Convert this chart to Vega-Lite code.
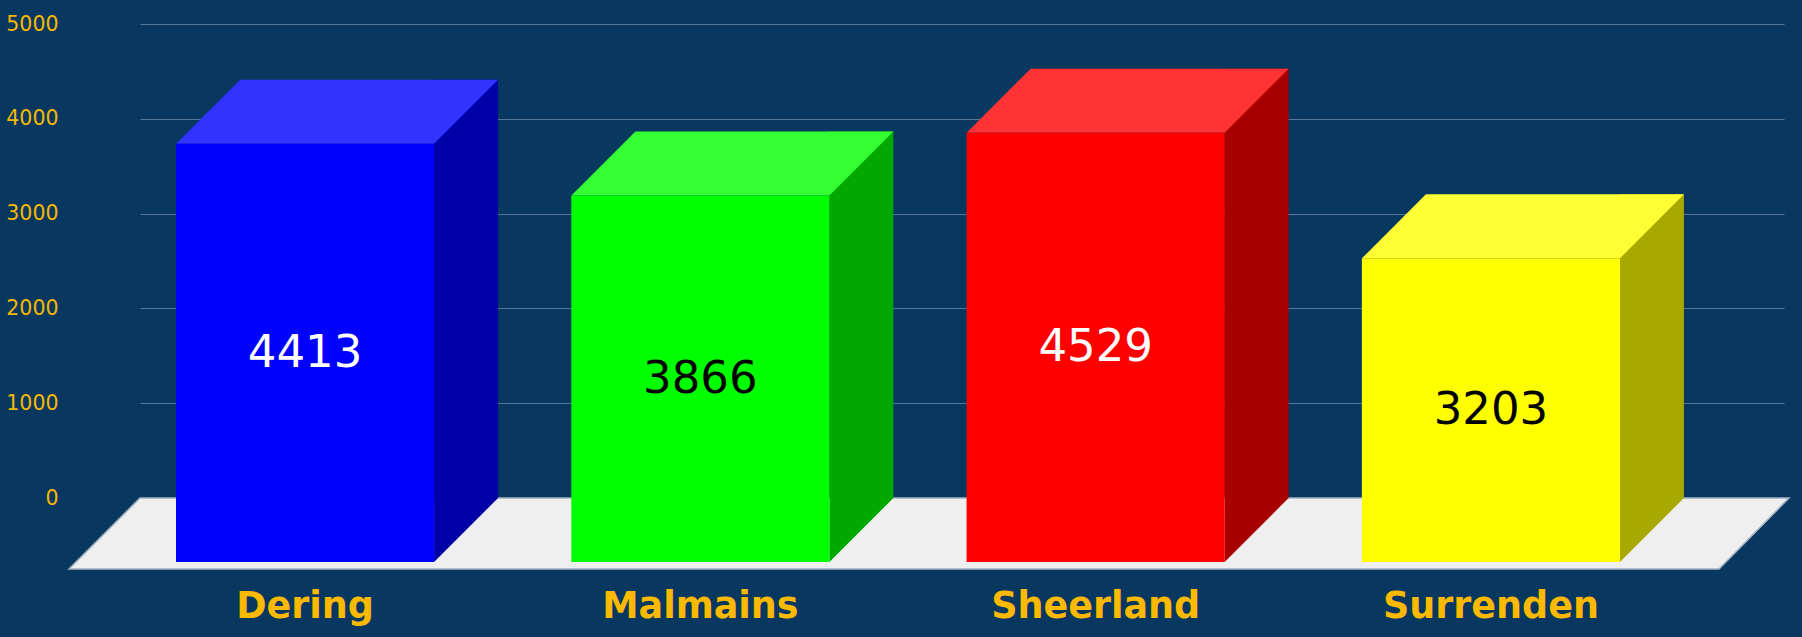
{
  "$schema": "https://vega.github.io/schema/vega-lite/v6.json",
  "width": 1649,
  "height": 474,
  "autosize": {"type": "none"},
  "padding": {"left": 140, "top": 24, "right": 13, "bottom": 139},
  "background": "#08375F",
  "data": {
    "values": [
      {"Region": "Dering", "Total": 4413},
      {"Region": "Malmains", "Total": 3866},
      {"Region": "Sheerland", "Total": 4529},
      {"Region": "Surrenden", "Total": 3203}
    ]
  },
  "layer": [
    {
      "layer": [
        {
          "data": {"values": [{"Element": "floor"}]},
          "mark": {
            "type": "point",
            "shape": "M-824.5,0L824.5,0L754.5,71L-895.5,71Z",
            "size": 4,
            "filled": true,
            "opacity": 1,
            "color": "#EFEFEF",
            "stroke": "#A3B3C4",
            "strokeWidth": 1.5
          },
          "encoding": {
            "y": {"datum": 0, "type": "quantitative", "scale": {"domain": [0, 5000], "nice": false}}
          }
        },
        {
          "mark": {"type": "bar", "width": 64, "xOffset": 97},
          "encoding": {
            "x": {"field": "Region", "type": "nominal", "sort": null, "title": null,
                  "scale": {"type": "band", "range": [0, 1644], "paddingInner": 0.347, "paddingOuter": 0.253}},
            "y": {"field": "Total", "type": "quantitative", "title": null, "axis": {"format": "d"},
                  "scale": {"domain": [0, 5000], "nice": false}},
            "color": {"field": "Region", "type": "nominal", "legend": null,
                      "scale": {"domain": ["Dering", "Malmains", "Sheerland", "Surrenden"],
                                "range": ["#0000A8", "#00A800", "#A80000", "#A8A800"]}}
          }
        },
        {
          "mark": {"type": "point", "shape": "M65,0L129,0L65,64Z", "size": 4, "filled": true, "opacity": 1, "strokeWidth": 0},
          "encoding": {
            "x": {"field": "Region", "type": "nominal", "sort": null, "title": null,
                  "scale": {"type": "band", "range": [0, 1644], "paddingInner": 0.347, "paddingOuter": 0.253}},
            "y": {"datum": 0, "type": "quantitative"},
            "color": {"field": "Region", "type": "nominal", "legend": null,
                      "scale": {"domain": ["Dering", "Malmains", "Sheerland", "Surrenden"],
                                "range": ["#0000A8", "#00A800", "#A80000", "#A8A800"]}}
          }
        },
        {
          "mark": {"type": "point", "shape": "M-129,0L129,0L65,64L-193,64Z", "size": 4, "filled": true, "opacity": 1, "strokeWidth": 0},
          "encoding": {
            "x": {"field": "Region", "type": "nominal", "sort": null, "title": null,
                  "scale": {"type": "band", "range": [0, 1644], "paddingInner": 0.347, "paddingOuter": 0.253}},
            "y": {"field": "Total", "type": "quantitative", "title": null, "axis": {"format": "d"},
                  "scale": {"domain": [0, 5000], "nice": false}},
            "color": {"field": "Region", "type": "nominal", "legend": null,
                      "scale": {"domain": ["Dering", "Malmains", "Sheerland", "Surrenden"],
                                "range": ["#3333FF", "#33FF33", "#FF3333", "#FFFF33"]}}
          }
        },
        {
          "mark": {"type": "bar", "xOffset": -64, "yOffset": 64, "y2Offset": 64},
          "encoding": {
            "x": {"field": "Region", "type": "nominal", "sort": null, "title": null,
                  "scale": {"type": "band", "range": [0, 1644], "paddingInner": 0.347, "paddingOuter": 0.253}},
            "y": {"field": "Total", "type": "quantitative", "title": null, "axis": {"format": "d"},
                  "scale": {"domain": [0, 5000], "nice": false}},
            "color": {"field": "Region", "type": "nominal", "legend": null,
                      "scale": {"domain": ["Dering", "Malmains", "Sheerland", "Surrenden"],
                                "range": ["#0000FF", "#00FF00", "#FF0000", "#FFFF00"]}}
          }
        }
      ],
      "resolve": {"scale": {"color": "independent"}}
    },
    {
      "mark": {"type": "text", "xOffset": -64, "yOffset": 64, "fontSize": 45, "font": "DejaVu Sans", "baseline": "middle", "align": "center"},
      "encoding": {
        "x": {"field": "Region", "type": "nominal", "sort": null, "title": null,
              "scale": {"type": "band", "range": [0, 1644], "paddingInner": 0.347, "paddingOuter": 0.253}},
        "y": {"field": "Total", "type": "quantitative", "axis": null, "scale": {"domain": [0, 10000], "nice": false}},
        "text": {"field": "Total", "type": "quantitative", "format": "d"},
        "color": {"field": "Region", "type": "nominal", "legend": null,
                  "scale": {"domain": ["Dering", "Malmains", "Sheerland", "Surrenden"],
                            "range": ["#FFFFFF", "#000000", "#FFFFFF", "#000000"]}}
      }
    }
  ],
  "resolve": {"scale": {"y": "independent", "color": "independent"}},
  "config": {
    "view": {"stroke": null},
    "axis": {"labelFont": "DejaVu Sans"},
    "axisX": {
      "domain": false, "ticks": false, "grid": false, "labelAngle": 0,
      "labelOffset": -64, "labelPadding": 90, "labelFontSize": 36.5,
      "labelFontWeight": "bold", "labelColor": "#FBB900", "labelLimit": 0
    },
    "axisY": {
      "domain": false, "ticks": false, "grid": true, "gridColor": "#567798",
      "gridWidth": 1, "labelPadding": 82, "labelFontSize": 20.5,
      "labelColor": "#F5B800", "tickCount": 5
    }
  }
}
